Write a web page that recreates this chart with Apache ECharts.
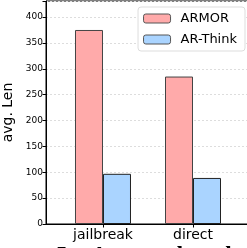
<!DOCTYPE html>
<html>
<head>
<meta charset="utf-8">
<script src="https://cdn.jsdelivr.net/npm/echarts@6/dist/echarts.min.js"></script>
<style>
  html, body { margin: 0; padding: 0; background: #fff; }
  #echart { width: 247px; height: 248px; }
</style>
</head>
<body>
<div id="echart"></div>
<script>
// 数据
var categories = ['jailbreak', 'direct'];
var armorValues = [375, 285];
var thinkValues = [97, 89];
var yTicks = [0, 50, 100, 150, 200, 250, 300, 350, 400];

var myChart = echarts.init(document.getElementById('echart'));

function toPoints(vals) {
    var out = [];
    for (var i = 0; i < vals.length; i++) {
        out.push([i, vals[i]]);
    }
    return out;
}

var font = 'DejaVu Sans';
var capFont = 'bold 23px "Liberation Serif"';
var option = {
    animation: false,
    grid: {
        left: 46, top: 1, width: 204, bottom: 24,
        outerBoundsMode: 'none', containLabel: false,
        show: true, borderColor: '#000', borderWidth: 1
    },
    legend: {
        right: 2, top: 7,
        orient: 'vertical',
        itemWidth: 27, itemHeight: 9, itemGap: 8,
        padding: [5, 8, 5, 5],
        backgroundColor: '#fff',
        borderColor: '#ddd', borderWidth: 1, borderRadius: 3,
        textStyle: { fontFamily: font, fontSize: 13, color: '#000', padding: [0, 0, 0, 5] },
        itemStyle: { borderColor: '#555', borderWidth: 1 },
        data: ['ARMOR', 'AR-Think']
    },
    xAxis: {
        type: 'value',
        min: -0.6333, max: 1.6333,
        axisLine: { show: true, onZero: false, lineStyle: { color: '#000' } },
        axisTick: { show: true, customValues: [0, 1], length: 3.5, lineStyle: { color: '#000' } },
        axisLabel: {
            customValues: [0, 1],
            formatter: function (v) { return categories[Math.round(v)]; },
            fontFamily: font, fontSize: 14, color: '#000', margin: 4
        },
        splitLine: { show: false }
    },
    yAxis: {
        type: 'value',
        min: 0, max: 431, interval: 50,
        name: 'avg. Len',
        nameLocation: 'middle',
        nameGap: 28,
        nameTextStyle: { fontFamily: font, fontSize: 14, color: '#000' },
        axisLine: { show: true, onZero: false, lineStyle: { color: '#000' } },
        axisTick: { show: true, length: 3.5, lineStyle: { color: '#000' } },
        axisLabel: {
            fontFamily: font, fontSize: 9, color: '#000', margin: 3,
            formatter: function (v) { return yTicks.indexOf(v) >= 0 ? String(v) : ''; }
        },
        splitLine: { show: true, lineStyle: { color: '#ddd', type: [2, 2] } }
    },
    series: [
        {
            name: 'ARMOR', type: 'bar',
            data: toPoints(armorValues),
            barWidth: 28, barGap: '0%',
            itemStyle: { color: '#ffaaaa', borderColor: '#444', borderWidth: 1 }
        },
        {
            name: 'AR-Think', type: 'bar',
            data: toPoints(thinkValues),
            barWidth: 28, barGap: '0%',
            itemStyle: { color: '#aad4ff', borderColor: '#222', borderWidth: 1 }
        }
    ],
    // 图注（被裁掉，只露出顶部）
    graphic: [
        {
            type: 'text', left: 56, top: 245,
            style: { text: '5', font: capFont, fill: '#000' }
        },
        {
            type: 'text', left: 91, top: 245,
            style: { text: 'Average length', font: capFont, fill: '#000' }
        }
    ]
};
myChart.setOption(option);
</script>
</body>
</html>
